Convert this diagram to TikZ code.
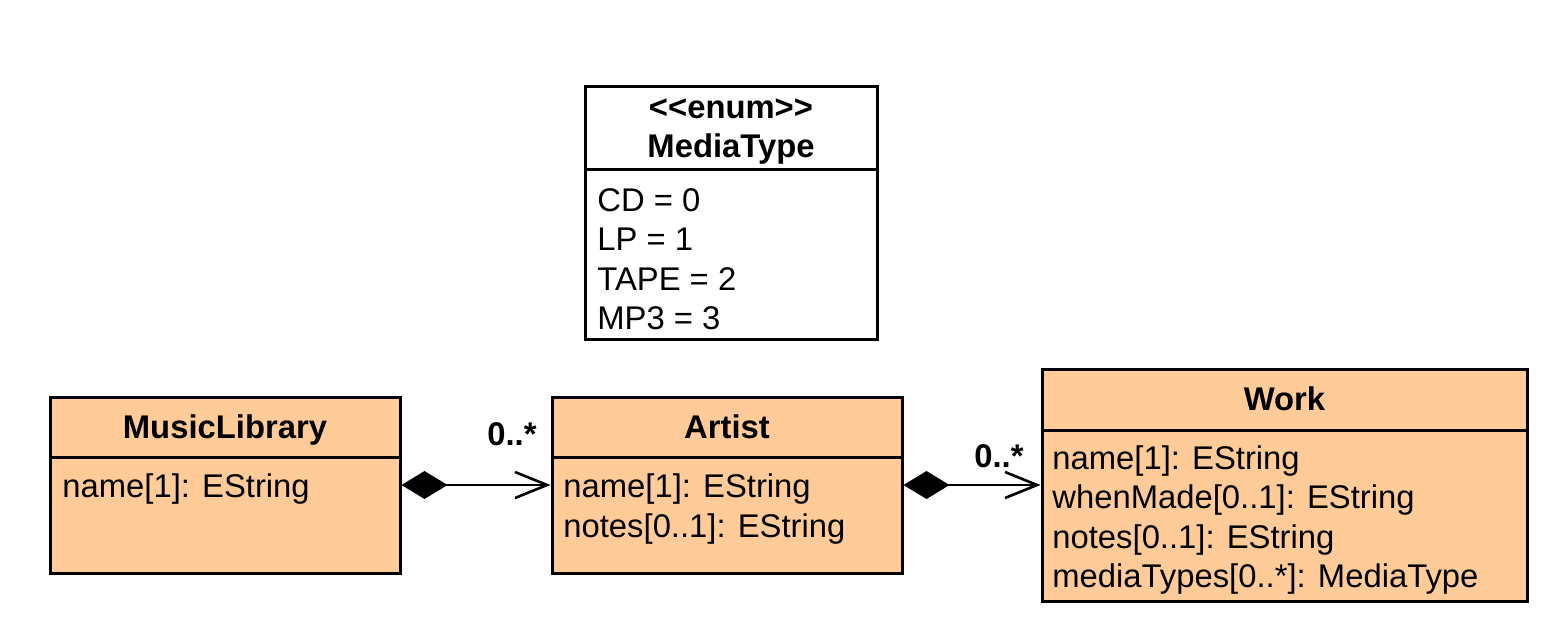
\documentclass[tikz,border=0pt]{standalone}
\usepackage{fontspec}
\setmainfont{Liberation Sans}
\usetikzlibrary{arrows.meta}
\definecolor{peach}{RGB}{255,204,153}
\begin{document}
\begin{tikzpicture}[x=0.5pt,y=-0.5pt,
  cls/.style={draw=black, line width=1.5pt, fill=peach, rectangle, inner sep=0pt},
  enumbox/.style={draw=black, line width=1.5pt, fill=white, rectangle, inner sep=0pt},
  divider/.style={line width=1.5pt},
  ttl/.style={anchor=base, inner sep=0pt, font=\fontsize{16.4}{20}\selectfont\bfseries},
  attr/.style={anchor=base west, inner sep=0pt, font=\fontsize{16.4}{20}\selectfont},
  mult/.style={anchor=base east, inner sep=0pt, font=\fontsize{16.4}{20}\selectfont\bfseries},
  comp/.style={line width=1.3pt, line join=miter,
    {Diamond[length=23pt,width=14pt,line width=0pt]}-{Straight Barb[length=16pt,width=13pt,line width=1.3pt]}}
]
\useasboundingbox (0,0) rectangle (1544,638);

% MediaType enum
\node[enumbox, minimum width=146pt, minimum height=126.5pt] (mt) at (731,212.5) {};
\draw[divider] (mt.west |- 0,169) -- (mt.east |- 0,169);
\node[ttl] (mtst) at (731,118) {<\kern0pt<enum>\kern0pt>};
\node[ttl] (mtt) at (731,157) {MediaType};
\node[attr] (mta1) at (597,211) {CD = 0};
\node[attr] (mta2) at (597,250.5) {LP = 1};
\node[attr] (mta3) at (597,290) {TAPE = 2};
\node[attr] (mta4) at (597,329.5) {MP3 = 3};

% MusicLibrary
\node[cls, minimum width=175pt, minimum height=88pt] (ml) at (225,485) {};
\draw[divider] (ml.west |- 0,457) -- (ml.east |- 0,457);
\node[ttl] (mlt) at (225,438.5) {MusicLibrary};
\node[attr] (mla1) at (62,497) {name[1]: EString};

% Artist
\node[cls, minimum width=175pt, minimum height=88pt] (ar) at (727,485) {};
\draw[divider] (ar.west |- 0,457) -- (ar.east |- 0,457);
\node[ttl] (art) at (727,438.5) {Artist};
\node[attr] (ara1) at (563,497) {name[1]: EString};
\node[attr] (ara2) at (563,537) {notes[0..1]: EString};

% Work
\node[cls, minimum width=242.5pt, minimum height=116pt] (wk) at (1284.5,485) {};
\draw[divider] (wk.west |- 0,430) -- (wk.east |- 0,430);
\node[ttl] (wkt) at (1284.5,410) {Work};
\node[attr] (wka1) at (1052,469) {name[1]: EString};
\node[attr] (wka2) at (1052,508.5) {whenMade[0..1]: EString};
\node[attr] (wka3) at (1052,548) {notes[0..1]: EString};
\node[attr] (wka4) at (1052,587.5) {mediaTypes[0..*]: MediaType};

% connectors
\draw[comp] (ml.east) -- (ar.west);
\draw[comp] (ar.east) -- (wk.west);
\node[mult] (m1) at (537,445) {0..*};
\node[mult] (m2) at (1024,467) {0..*};
\end{tikzpicture}
\end{document}
